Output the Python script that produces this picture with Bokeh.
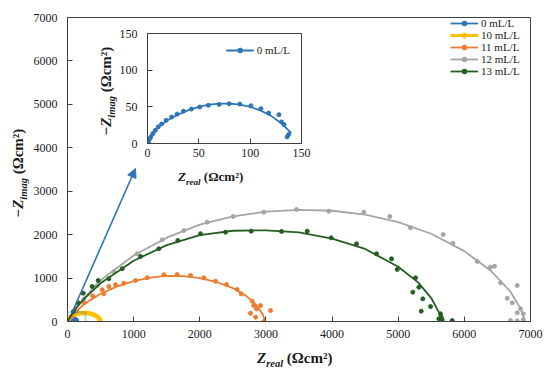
from bokeh.plotting import figure
from bokeh.models import (Range1d, FixedTicker, Legend, LegendItem, Div,
                          Arrow, NormalHead, BoxAnnotation)
from bokeh.layouts import column
from bokeh.embed import file_html
from bokeh.resources import INLINE

# ---------------- data ----------------
series_names = ["0 mL/L", "10 mL/L", "11 mL/L", "12 mL/L", "13 mL/L"]

blue_x = [0.3, 0.7, 1.8, 3.2, 5.3, 7.7, 10.5, 13.7, 18.2, 23.5, 28.8, 35, 42.8, 50.9,
          59.3, 69.8, 79.6, 90, 100.7, 110.5, 118, 128, 130.5, 133, 137.5, 136]
blue_y = [-2, 1.8, 5.4, 9, 13.5, 18, 22.6, 26.6, 31.6, 36.1, 40, 44, 47, 49.7,
          52, 53.3, 54.2, 53.7, 51.5, 47.4, 41.5, 39.3, 29.4, 25.7, 12.2, 9]
blue_fit_x = [0, 2, 5, 10, 20, 30, 40, 50, 60, 70, 80, 90, 100, 110, 120, 130, 136, 140]
blue_fit_y = [0, 8, 15, 22, 32, 39.5, 45.5, 50, 53, 54.5, 54.5, 53, 50, 45, 38, 28, 20, 14]

yellow_x = [0, 20, 40, 70, 100, 140, 180, 220, 260, 300, 340, 380, 420, 450, 470, 485, 495, 500]
yellow_y = [0, 60, 95, 130, 155, 175, 188, 195, 197, 193, 183, 166, 140, 112, 85, 55, 25, 5]
yellow_fit_x = [0, 25, 60, 100, 150, 200, 250, 300, 350, 400, 440, 470, 490, 500]
yellow_fit_y = [0, 70, 118, 152, 178, 192, 197, 195, 186, 168, 138, 100, 55, 0]

orange_x = [60, 130, 250, 380, 524, 549, 625, 726, 852, 1028, 1205, 1457, 1658, 1860,
            2061, 2238, 2404, 2566, 2626, 2767, 2792, 2817, 2843, 2858, 2918, 2968, 3069]
orange_y = [120, 250, 430, 590, 730, 638, 806, 845, 882, 944, 1006, 1075, 1082, 1059,
            1006, 928, 852, 737, 638, 191, 468, 368, 99, 292, 368, 0, 253]
orange_fit_x = [0, 100, 250, 500, 750, 1000, 1250, 1500, 1750, 2000, 2250, 2500, 2700, 2850, 2950, 2990]
orange_fit_y = [0, 190, 400, 640, 810, 930, 1010, 1050, 1045, 1000, 910, 770, 590, 390, 170, 0]

gray_x = [100, 250, 450, 700, 1054, 1432, 1759, 2112, 2505, 2968, 3462, 3951, 4480, 4873,
          5186, 5680, 5826, 6195, 6396, 6456, 6547, 6799, 6648, 6724, 6850, 6799, 6890,
          6698, 6799, 6890]
gray_y = [230, 520, 830, 1150, 1559, 1881, 2096, 2287, 2418, 2517, 2579, 2540, 2517, 2418,
          2157, 2004, 1804, 1382, 1251, 1274, 891, 829, 537, 430, 292, 200, 177,
          23, 16, 39]
gray_fit_x = [0, 100, 250, 500, 1000, 1500, 2000, 2500, 3000, 3500, 4000, 4500, 5000,
              5500, 6000, 6400, 6700, 6850, 6920]
gray_fit_y = [0, 250, 540, 950, 1520, 1930, 2230, 2420, 2530, 2570, 2550, 2460, 2290,
              2020, 1620, 1170, 680, 300, 0]

green_x = [90, 160, 237, 373, 464, 625, 827, 1104, 1381, 1668, 2011, 2389, 2777, 3236,
           3624, 3987, 4370, 4672, 4899, 4985, 5262, 5312, 5221, 5372, 5489, 5348,
           5640, 5650, 5614, 5665, 5817]
green_y = [230, 430, 652, 806, 944, 983, 1214, 1497, 1674, 1865, 2020, 2057, 2080, 2073,
           2080, 1927, 1789, 1559, 1444, 1198, 1006, 790, 675, 522, 345, 238,
           176, 99, 62, 39, 23]
green_fit_x = [0, 100, 250, 500, 1000, 1500, 2000, 2500, 3000, 3500, 4000, 4500, 5000,
               5300, 5500, 5620, 5660]
green_fit_y = [0, 260, 520, 880, 1400, 1760, 1990, 2090, 2100, 2050, 1910, 1670, 1260,
               900, 540, 200, 0]

main_ticks = [0, 1000, 2000, 3000, 4000, 5000, 6000, 7000]
inset_ticks = [0, 50, 100, 150]
zoom_box = dict(left=-20, right=272, bottom=-92, top=214)
arrow_from = (71, 214)
arrow_to = (1028, 3524)

x_title_html = "<i>Z</i><sub style='font-size:70%'><i>real</i></sub> (Ωcm²)"
y_title_html = "−<i>Z</i><sub style='font-size:70%'><i>imag</i></sub> (Ωcm²)"

# ---------------- style ----------------
BLUE, YELLOW, ORANGE, GRAY, GREEN = "#2E75B6", "#FFC000", "#ED7D31", "#A5A5A5", "#255E25"
FONT = "Liberation Serif"
AX = "#404040"
TXT = "#1a1a1a"
W, H = 550, 372


def style_axes(fig, ticks, lab_standoff_x, lab_standoff_y):
    fig.xgrid.visible = False
    fig.ygrid.visible = False
    fig.outline_line_color = AX
    fig.outline_line_width = 1
    for ax in (fig.xaxis[0], fig.yaxis[0]):
        ax.ticker = FixedTicker(ticks=ticks)
        ax.axis_line_color = AX
        ax.major_tick_line_color = AX
        ax.major_tick_in = 5
        ax.major_tick_out = 0
        ax.minor_tick_line_color = None
        ax.major_label_text_font = FONT
        ax.major_label_text_font_size = "12px"
        ax.major_label_text_color = TXT
    fig.xaxis[0].major_label_standoff = lab_standoff_x
    fig.yaxis[0].major_label_standoff = lab_standoff_y


def legend_for(items, margin, label_width):
    return Legend(items=items, location="top_right", margin=margin, padding=2, spacing=0,
                  label_text_font=FONT, label_text_font_size="11px", label_text_color=TXT,
                  label_height=12, glyph_height=12, glyph_width=28, label_standoff=3,
                  label_width=label_width, background_fill_alpha=0, border_line_color=None)


# ---------------- main figure ----------------
p = figure(width=W, height=H, x_range=Range1d(0, 7000), y_range=Range1d(0, 7000),
           output_backend="svg", toolbar_location=None,
           min_border_left=67, min_border_right=20, min_border_top=17, min_border_bottom=51)
p.border_fill_color = "white"
style_axes(p, main_ticks, 8, 10)

data = [(blue_x, blue_y, blue_fit_x, blue_fit_y, BLUE),
        (yellow_x, yellow_y, yellow_fit_x, yellow_fit_y, YELLOW),
        (orange_x, orange_y, orange_fit_x, orange_fit_y, ORANGE),
        (gray_x, gray_y, gray_fit_x, gray_fit_y, GRAY),
        (green_x, green_y, green_fit_x, green_fit_y, GREEN)]
items = []
for name, (dx, dy, fx, fy, col) in zip(series_names, data):
    lw = 3 if col == YELLOW else 1.8
    ln = p.line(fx, fy, line_color=col, line_width=lw)
    sc = p.scatter(dx, dy, size=4, fill_color=col, line_color=col)
    items.append(LegendItem(label=name, renderers=[ln, sc]))

p.add_layout(legend_for(items, 0, 49))
p.add_layout(BoxAnnotation(fill_alpha=0, line_color=BLUE, line_width=2, **zoom_box))
p.add_layout(Arrow(end=NormalHead(size=9, fill_color=BLUE, line_color=BLUE),
                   x_start=arrow_from[0], y_start=arrow_from[1],
                   x_end=arrow_to[0], y_end=arrow_to[1], line_color=BLUE, line_width=1.6))

# ---------------- inset figure (column aligns its side borders with the main plot) ----
q = figure(width=241, height=162, x_range=Range1d(0, 150), y_range=Range1d(0, 150),
           output_backend="svg", toolbar_location=None,
           min_border_left=67, min_border_right=10, min_border_top=9, min_border_bottom=43,
           background_fill_color="white")
q.border_fill_color = None
style_axes(q, inset_ticks, 5, 10)
qln = q.line(blue_fit_x, blue_fit_y, line_color=BLUE, line_width=1.8)
qsc = q.scatter(blue_x, blue_y, size=4, fill_color=BLUE, line_color=BLUE)
q.add_layout(legend_for([LegendItem(label=series_names[0], renderers=[qln, qsc])], 11, 20))
q.margin = (-348, 0, 0, 80)


# ---------------- axis titles as HTML text ----------------
def title_div(html, size, w, h, margin, rotate=False, align="center"):
    styles = {"transform": "rotate(-90deg)"} if rotate else {}
    inner = (f"<div style=\"font-family:'{FONT}';font-size:{size}px;font-weight:bold;"
             f"color:{TXT};white-space:nowrap;text-align:{align};line-height:{h}px;"
             f"width:{w}px;height:{h}px\">{html}</div>")
    return Div(text=inner, width=w, height=h, margin=margin, styles=styles)


# stacking: p ends at 372, q ends at 186
d1 = title_div(x_title_html, 15, 120, 20, (162, 0, 0, 257), align="left")   # top 348
d2 = title_div(y_title_html, 15, 120, 20, (-205, 0, 0, -42), True)         # top 163
d3 = title_div(x_title_html, 13, 100, 18, (-15, 0, 0, 178), align="left")   # top 168
d4 = title_div(y_title_html, 15, 110, 20, (-105, 0, 0, 51), True)          # top 81

layout = column(p, q, d1, d2, d3, d4, spacing=0)
open("out.html", "w").write(file_html(layout, INLINE))
